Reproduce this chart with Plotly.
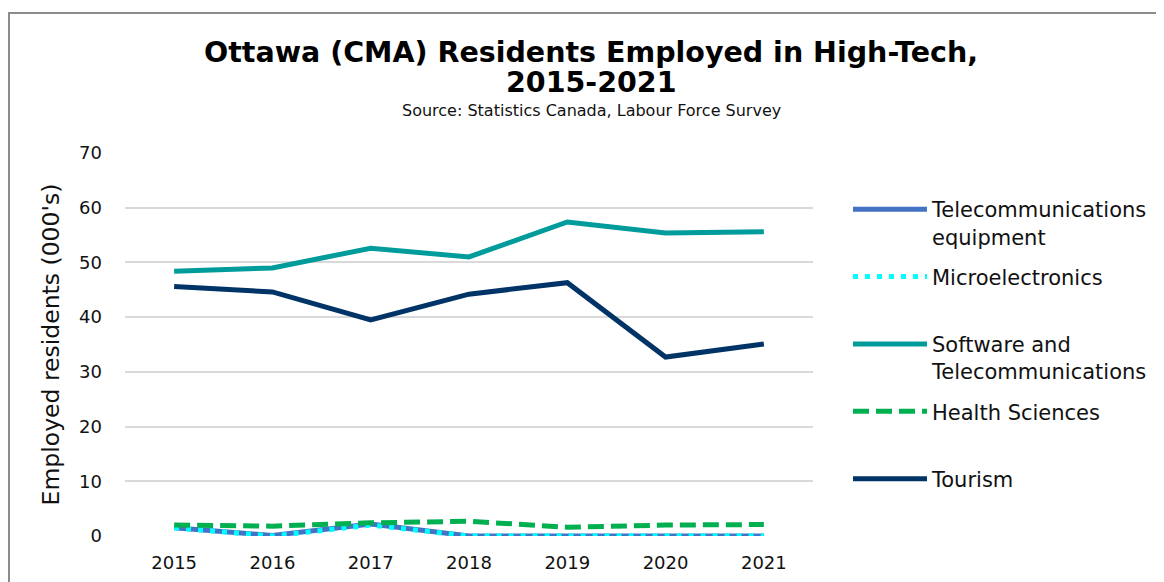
import plotly.graph_objects as go

years = ["2015", "2016", "2017", "2018", "2019", "2020", "2021"]
telecom_equipment = [1.5, 0.1, 2.2, 0.0, 0.0, 0.0, 0.0]
microelectronics = [1.5, 0.0, 2.0, 0.0, 0.0, 0.0, 0.0]
software_telecom = [48.4, 49.0, 52.6, 51.0, 57.4, 55.4, 55.6]
health_sciences = [2.0, 1.8, 2.4, 2.7, 1.6, 2.0, 2.1]
tourism = [45.6, 44.6, 39.5, 44.2, 46.3, 32.7, 35.1]

series = [
    ("Telecommunications<br>equipment", telecom_equipment, "#4472C4", "solid"),
    ("Microelectronics<br> ", microelectronics, "#00FFFF", "5px,7px"),
    ("Software and<br>Telecommunications", software_telecom, "#009B9B", "solid"),
    ("Health Sciences<br> ", health_sciences, "#00B050", "16px,7px"),
    ("Tourism<br> ", tourism, "#003366", "solid"),
]

FONT = "DejaVu Sans"
fig = go.Figure()
for i, (name, vals, color, dash) in enumerate(series):
    fig.add_trace(go.Scatter(
        x=years, y=vals, name=name, mode="lines", legendgroup=f"g{i}",
        line=dict(color=color, width=5, dash=dash),
    ))

OFF = 8  # page offset of the figure (body margin)
W, H = 1164 - OFF, 582 - OFF
L = 125 - OFF
R = W - (813 - OFF)
T = 153 - OFF
B = H - (536 - OFF)
pw, ph = W - L - R, H - T - B

def px_x(p):
    return (p - OFF - L) / pw

def px_y(p):
    return (H - B - (p - OFF)) / ph

fig.update_layout(
    width=W, height=H,
    margin=dict(l=L, r=R, t=T, b=B, pad=0, autoexpand=False),
    paper_bgcolor="white", plot_bgcolor="white",
    font=dict(family=FONT, color="#111111", size=18),
    title=dict(
        text="<b>Ottawa (CMA) Residents Employed in High-Tech,</b>",
        x=px_x(591), xref="paper", xanchor="center",
        y=1 - (52 - OFF) / H, yref="container", yanchor="middle",
        font=dict(family=FONT, size=28.5, color="#000000"),
    ),
    showlegend=True,
    legend=dict(
        x=px_x(848), y=px_y(189), xanchor="left", yanchor="top",
        font=dict(family=FONT, size=21, color="#111111"),
        valign="top", itemwidth=74, tracegroupgap=9.8,
        bgcolor="rgba(0,0,0,0)",
    ),
    xaxis=dict(
        type="category", range=[-0.5, 6.5], showgrid=False, zeroline=False,
        showline=False, ticks="", tickfont=dict(size=18),
        ticklabelstandoff=14, automargin=False,
    ),
    yaxis=dict(
        range=[0, 70], dtick=10, showgrid=True, gridcolor="#D9D9D9", gridwidth=2,
        zeroline=False, showline=False, ticks="", tickfont=dict(size=18),
        ticklabelstandoff=22, automargin=False,
        title=dict(text="Employed residents (000's)", font=dict(size=23.5), standoff=12),
    ),
    annotations=[
        dict(
            text="<b>2015-2021</b>",
            x=px_x(591), y=px_y(82), xref="paper", yref="paper",
            xanchor="center", yanchor="middle", showarrow=False,
            font=dict(family=FONT, size=28.5, color="#000000"),
        ),
        dict(
            text="Source: Statistics Canada, Labour Force Survey",
            x=px_x(591), y=px_y(111), xref="paper", yref="paper",
            xanchor="center", yanchor="middle", showarrow=False,
            font=dict(family=FONT, size=16, color="#111111"),
        ),
    ],
    shapes=[dict(
        type="rect", xref="paper", yref="paper",
        x0=px_x(OFF + 1), x1=px_x(1190), y0=px_y(610), y1=px_y(13),
        line=dict(color="#8C8C8C", width=2), fillcolor="rgba(0,0,0,0)", layer="below",
    )],
)

fig.write_html("out.html")
